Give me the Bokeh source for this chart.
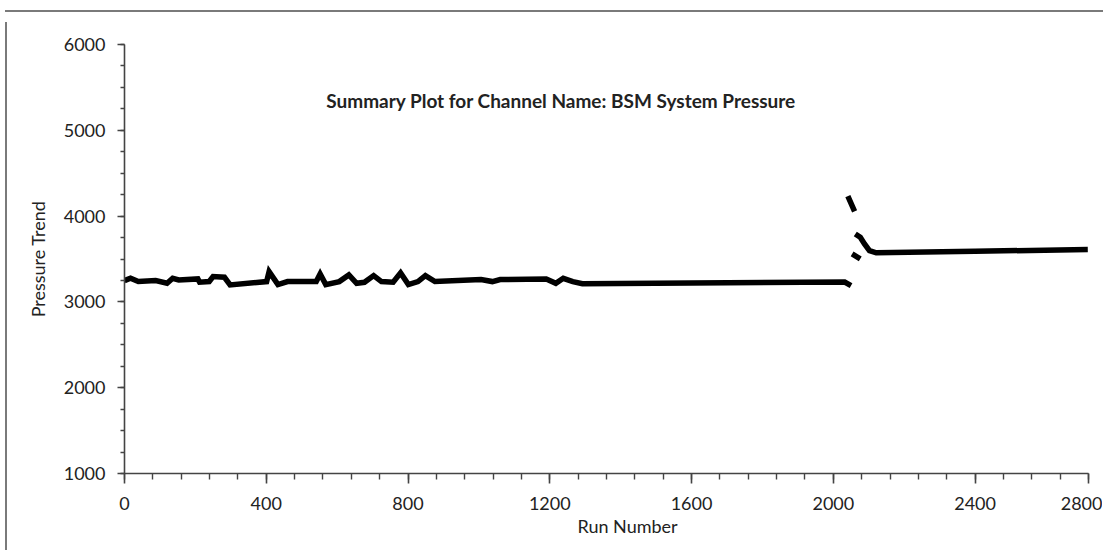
from bokeh.plotting import figure
from bokeh.models import Range1d, FixedTicker, Label, Title, Div
from bokeh.layouts import column, row
from bokeh.embed import file_html
from bokeh.resources import INLINE

NaN = float("nan")

# ---- data ----
run_main = [0, 17, 39, 88, 120, 136, 153, 207, 212, 239, 250, 282, 298, 401, 408, 433, 460,
            541, 552, 568, 606, 633, 655, 677, 703, 725, 758, 779, 801, 828, 849, 876,
            1006, 1038, 1060, 1190, 1217, 1238, 1265, 1292, 2032, 2050]
press_main = [3248, 3275, 3237, 3248, 3217, 3275, 3256, 3268, 3229, 3237, 3295, 3287, 3198, 3237, 3353, 3202, 3237,
              3237, 3326, 3202, 3237, 3314, 3217, 3229, 3307, 3237, 3229, 3338, 3202, 3237, 3307, 3237,
              3260, 3237, 3260, 3268, 3217, 3275, 3237, 3212, 3232, 3190]
run_dash_a = [2041, 2060]
press_dash_a = [4232, 4054]
run_dash_b = [2053, 2076]
press_dash_b = [3559, 3501]
run_tail = [2062, 2076, 2088, 2102, 2121, 2400, 2718]
press_tail = [3792, 3754, 3676, 3598, 3572, 3590, 3610]

x_major = [0, 400, 800, 1200, 1600, 2000, 2400, 2720]
x_labels = {2720: "2800"}
y_major = [1000, 2000, 3000, 4000, 5000, 6000]

title_text = "Summary Plot for Channel Name: BSM System Pressure"
x_title = "Run Number"
y_title = "Pressure Trend"

X0, X1 = 0, 2720
Y0, Y1 = 1000, 6000

run_all = run_main + [NaN] + run_dash_a + [NaN] + run_dash_b + [NaN] + run_tail
press_all = press_main + [NaN] + press_dash_a + [NaN] + press_dash_b + [NaN] + press_tail

W, H = 1090, 528
p = figure(width=W, height=H, x_range=Range1d(X0, X1), y_range=Range1d(Y0, Y1),
           output_backend="svg", toolbar_location=None,
           min_border_left=112, min_border_top=27, min_border_right=14, min_border_bottom=72)
p.grid.visible = False
p.outline_line_color = None
p.background_fill_color = "white"
p.border_fill_color = "white"

p.line(run_all, press_all, line_color="black", line_width=5.5, line_join="miter")

FONT = "Lato"
for ax in (p.xaxis[0], p.yaxis[0]):
    ax.axis_line_color = "#444444"
    ax.axis_line_width = 1.6
    ax.major_tick_line_color = "#444444"
    ax.minor_tick_line_color = "#444444"
    ax.major_tick_line_width = 1.6
    ax.minor_tick_line_width = 1.4
    ax.major_tick_in = 0
    ax.minor_tick_in = 0
    ax.major_label_text_font = FONT
    ax.major_label_text_font_size = "18px"
    ax.major_label_text_color = "#222222"

xa = p.xaxis[0]
xa.ticker = FixedTicker(ticks=x_major, minor_ticks=list(range(0, 2721, 80)))
xa.major_label_overrides = x_labels
xa.major_tick_out = 10
xa.minor_tick_out = 6
xa.major_label_standoff = 13

ya = p.yaxis[0]
ya.ticker = FixedTicker(ticks=y_major, minor_ticks=list(range(1000, 6001, 250)))
ya.major_tick_out = 7
ya.minor_tick_out = 4
ya.major_label_standoff = 12
ya.axis_label = y_title
ya.axis_label_text_font = FONT
ya.axis_label_text_font_size = "18px"
ya.axis_label_text_font_style = "normal"
ya.axis_label_text_color = "#222222"
ya.axis_label_standoff = 12

p.add_layout(Title(text=x_title, align="left", offset=453, standoff=0,
                   text_font=FONT, text_font_size="18px", text_font_style="normal",
                   text_color="#222222"), "below")

p.add_layout(Label(x=X0 + 0.453 * (X1 - X0), y=Y0 + 0.87 * (Y1 - Y0), text=title_text,
                   text_align="center", text_baseline="middle", text_font=FONT,
                   text_font_size="19px", text_font_style="bold", text_color="#222222"))

# grey page frame (top and left edges)
top_rule = Div(width=1098, height=2, styles={"background-color": "#7a7a7a"})
left_rule = Div(width=2, height=H, styles={"background-color": "#7a7a7a"})
page = column(top_rule, row(left_rule, p, spacing=0), spacing=0)
page.margin = (5, 0, 0, 0)

open("out.html", "w").write(file_html(page, INLINE))
